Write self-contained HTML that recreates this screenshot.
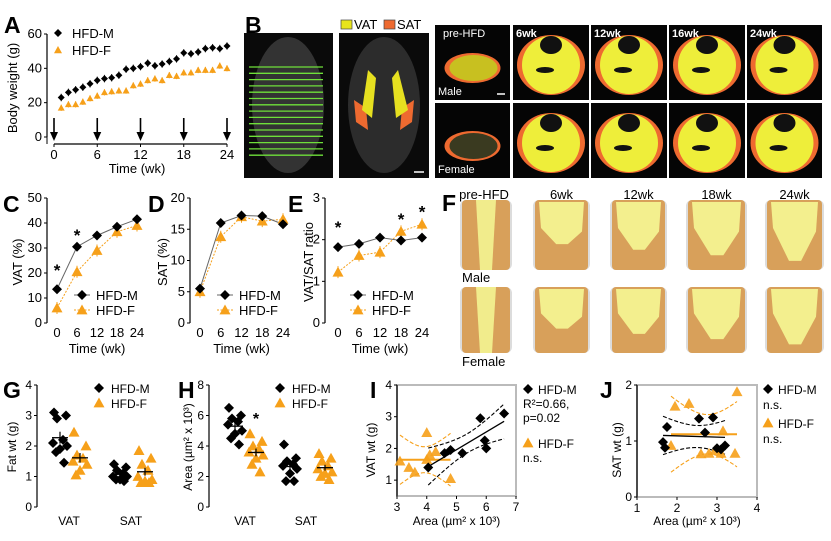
<!DOCTYPE html>
<html><head><meta charset="utf-8"><style>
html,body{margin:0;padding:0;background:#fff;}
svg{display:block;font-family:"Liberation Sans",Arial,sans-serif;}
</style></head><body>
<svg id="fig" width="831" height="541" viewBox="0 0 831 541" xmlns="http://www.w3.org/2000/svg"></svg>
<script>
// ---------- DATA ----------
const weeksA = [1,2,3,4,5,6,7,8,9,10,11,12,13,14,15,16,17,18,19,20,21,22,23,24];
const bwMale = [23,26,27.5,29,31,33,34,34.5,36,39.5,40,41,43,41.5,42.5,44,45.5,49,48.5,49.5,51.5,52,51.5,53];
const bwFemale = [17,19,19,20.5,22.5,24,26,26.5,27,27,30,31,33,34,33,36,35.5,37.5,37.5,39,39,39,41.5,40];
const arrowWeeks = [0,6,12,18,24];
const timeCE = [0,6,12,18,24];
const vatMale = [13.5,30.5,35,38.5,41.5];
const vatFemale = [6,20.5,29,36.5,39];
const satMale = [5.5,16,17.2,17.1,15.8];
const satFemale = [5,13.8,17,16.3,16.6];
const ratioMale = [1.82,1.9,2.05,1.98,2.05];
const ratioFemale = [1.22,1.62,1.7,2.2,2.37];
const gVatM = [3.1,3.0,2.9,2.2,2.1,2.0,1.9,1.8,1.45];
const gVatF = [2.45,2.0,1.7,1.6,1.5,1.4,1.2,1.05];
const gSatM = [1.4,1.3,1.2,1.1,1.0,1.0,0.9,0.9,0.85];
const gSatF = [1.85,1.6,1.4,1.2,1.0,0.9,0.85,0.8,0.8];
const hVatM = [6.5,6.0,5.8,5.6,5.4,5.0,4.8,4.5,4.1];
const hVatF = [4.8,4.3,4.0,3.8,3.6,3.4,3.2,2.8,2.3];
const hSatM = [4.1,3.2,3.0,2.8,2.7,2.5,2.2,1.7,1.7];
const hSatF = [3.5,3.2,3.0,2.7,2.5,2.3,2.2,2.0,1.8];
const iMaleX = [4.05,4.6,4.8,5.2,5.8,5.95,6.0,6.6];
const iMaleY = [1.4,1.85,1.95,1.85,2.95,2.25,2.0,3.1];
const iFemX = [3.1,3.4,3.6,4.0,4.0,4.1,4.3,4.8];
const iFemY = [1.6,1.4,1.25,2.5,1.65,1.8,1.9,1.05];
const jMaleX = [1.65,1.7,1.75,2.55,2.7,2.9,3.0,3.1,3.2];
const jMaleY = [0.98,0.88,1.25,1.4,1.15,1.42,0.87,0.85,0.92];
const jFemX = [1.85,1.95,2.3,2.6,2.8,2.95,3.1,3.15,3.45,3.5];
const jFemY = [0.92,1.62,1.67,0.77,0.78,0.83,0.78,1.18,0.78,1.88];

// ---------- HELPERS ----------
const NS="http://www.w3.org/2000/svg";
const svg=document.getElementById('fig');
const OR="#f6a01a";
function mk(tag,attrs,name,parent){
  const el=document.createElementNS(NS,tag);
  for(const k in attrs) el.setAttribute(k,attrs[k]);
  
  
  (parent||svg).appendChild(el);
  return el;
}
function txt(x,y,s,name,o){
  o=o||{};
  const t=mk('text',{x:x,y:y,'font-size':o.size||12,'text-anchor':o.anchor||'start','font-weight':o.bold?'bold':'normal',fill:o.fill||'#000'},name);
  if(o.rot) t.setAttribute('transform','rotate(-90 '+x+' '+y+')');
  t.textContent=s;return t;
}
function lin(a0,a1,p0,p1){return v=>p0+(v-a0)*(p1-p0)/(a1-a0);}
function diamond(x,y,r,name,fill){return mk('polygon',{points:`${x},${y-r} ${x+r},${y} ${x},${y+r} ${x-r},${y}`,fill:fill||'#000'},name);}
function tri(x,y,r,name,fill,op){return mk('polygon',{points:`${x},${y-r} ${x+r},${y+r*0.8} ${x-r},${y+r*0.8}`,fill:fill||OR,'fill-opacity':op||1},name);}
function line(x1,y1,x2,y2,name,st,w,dash){const a={x1:x1,y1:y1,x2:x2,y2:y2,stroke:st||'#000','stroke-width':w||1};if(dash)a['stroke-dasharray']=dash;return mk('line',a,name);}
function yAxis(x,sy,ticks,top,bot,name,size){
  line(x,sy(top),x,sy(bot),name+'-line','#000',1.2);
  ticks.forEach(v=>{line(x-3,sy(v),x,sy(v),name+'-tick');txt(x-5,sy(v)+4,String(v),name+'-label',{anchor:'end',size:size||12});});
}
function letter(x,y,s){txt(x,y,s,'panel-label-'+s.toLowerCase(),{size:23,bold:true});}

// ---------- PANEL A ----------
letter(4,33,'A');
const axA=lin(0,24,54,227), ayA=lin(0,60,137,34);
yAxis(47,ayA,[0,20,40,60],60,0,'a-y-axis',13);
line(47,ayA(0),47,144,'a-y-axis-ext');
line(54,144,227,144,'a-x-axis','#000',1.2);
[0,6,12,18,24].forEach(v=>{line(axA(v),144,axA(v),147,'a-x-tick');txt(axA(v),159,String(v),'a-x-label',{anchor:'middle',size:13});});
arrowWeeks.forEach(v=>{line(axA(v),118,axA(v),133,'a-arrow-shaft','#000',1.6);mk('polygon',{points:`${axA(v)-4},132 ${axA(v)+4},132 ${axA(v)},141`,fill:'#000'},'a-arrow-head');});
txt(137,173,'Time (wk)','a-x-title',{anchor:'middle',size:13});
txt(17,88,'Body weight (g)','a-y-title',{anchor:'middle',size:13,rot:true});
weeksA.forEach((w,i)=>{
  const x=axA(w);
  line(x,ayA(bwFemale[i]+1.8),x,ayA(bwFemale[i]-1.8),'a-female-err',OR);
  tri(x,ayA(bwFemale[i]),3.5,'a-female-point');
  line(x,ayA(bwMale[i]+2.2),x,ayA(bwMale[i]-2.2),'a-male-err','#333');
  diamond(x,ayA(bwMale[i]),3.5,'a-male-point');
});
diamond(58,33,4,'a-legend-male-marker');txt(72,38,'HFD-M','a-legend-male',{size:13});
tri(58,50,4,'a-legend-female-marker');txt(72,55,'HFD-F','a-legend-female',{size:13});

// ---------- PANEL B ----------
letter(245,33,'B');
const g1=mk('g',{},'b-mri-coronal-raw');
mk('rect',{x:244,y:33,width:89,height:145,fill:'#0a0a0a'},'b-mri-bg',g1);
mk('ellipse',{cx:288,cy:105,rx:36,ry:68,fill:'#333'},'b-mri-body',g1);
for(let i=0;i<15;i++) line(249,67+i*6.3,323,67+i*6.3,'b-slice-line','#6fe03a',1.3);
const g2=mk('g',{},'b-mri-coronal-seg');
mk('rect',{x:339,y:33,width:90,height:145,fill:'#0a0a0a'},'b-mri-bg',g2);
mk('ellipse',{cx:384,cy:105,rx:36,ry:68,fill:'#2c2c2c'},'b-mri-body',g2);
mk('path',{d:'M354 100 L366 108 L368 130 L356 122 Z',fill:'#ee6a30'},'b-sat-left',g2);
mk('path',{d:'M414 100 L402 108 L400 130 L412 122 Z',fill:'#ee6a30'},'b-sat-right',g2);
mk('path',{d:'M368 70 L376 78 L372 118 L362 110 Z',fill:'#e6e020'},'b-vat-left',g2);
mk('path',{d:'M398 70 L392 78 L396 118 L408 110 Z',fill:'#e6e020'},'b-vat-right',g2);
line(414,172,424,172,'b-scale-bar','#fff',1.5);
mk('rect',{x:341,y:20,width:11,height:9,fill:'#e8e41c',stroke:'#444','stroke-width':0.7},'b-legend-vat-swatch');
txt(354,29,'VAT','b-legend-vat',{size:13});
mk('rect',{x:384,y:20,width:11,height:9,fill:'#ee6a30',stroke:'#444','stroke-width':0.7},'b-legend-sat-swatch');
txt(397,29,'SAT','b-legend-sat',{size:13});
const colX=[435,513,591,669,747], colW=[75,76,76,76,75], rowY=[25,103];
const colLab=['pre-HFD','6wk','12wk','16wk','24wk'];
rowY.forEach((ry,r)=>colX.forEach((cx,c)=>{
  const g=mk('g',{},'b-axial-slice');
  mk('rect',{x:cx,y:ry,width:colW[c],height:75,fill:'#050505'},'b-slice-bg',g);
  const mx=cx+colW[c]/2, my=ry+40;
  if(c===0){
    mk('ellipse',{cx:mx,cy:my+3,rx:28,ry:15,fill:'#ee6a30'},'b-sat',g);
    mk('ellipse',{cx:mx+1,cy:my+3,rx:24,ry:13,fill:r?'#3a3a20':'#c8c020'},'b-vat',g);
  }else{
    mk('ellipse',{cx:mx,cy:my,rx:34,ry:30,fill:'#ee6a30'},'b-sat',g);
    mk('ellipse',{cx:mx,cy:my,rx:29,ry:29,fill:'#eeee3a'},'b-vat',g);
    mk('ellipse',{cx:mx,cy:ry+20,rx:11,ry:9,fill:'#111'},'b-spine',g);
    mk('ellipse',{cx:mx-6,cy:my+5,rx:9,ry:3,fill:'#111'},'b-organ',g);
  }
  if(r===0) txt(cx+(c===0?8:3),ry+12,colLab[c],'b-col-label',{size:11,bold:c>0,fill:'#fff'});
}));
txt(438,95,'Male','b-male-label',{size:11,fill:'#fff'});
txt(438,173,'Female','b-female-label',{size:11,fill:'#fff'});
line(497,94,505,94,'b-scale-bar2','#fff',1.5);

// ---------- panels C D E ----------
function tcPanel(letterS,lx,axX,x0,x24,ymax,yt,m,f,ytitle,tx,stars,legX){
  letter(lx,212,letterS);
  const sx=lin(0,24,x0,x24), sy=lin(0,ymax,323,198);
  const p=letterS.toLowerCase();
  yAxis(axX,sy,yt,ymax,0,p+'-y-axis',13);
  timeCE.forEach(v=>txt(sx(v),337,String(v),p+'-x-label',{anchor:'middle',size:13}));
  txt((x0+x24)/2,353,'Time (wk)',p+'-x-title',{anchor:'middle',size:13});
  txt(tx,262,ytitle,p+'-y-title',{anchor:'middle',size:13,rot:true});
  mk('polyline',{points:timeCE.map((t,i)=>sx(t)+','+sy(f[i])).join(' '),fill:'none',stroke:OR,'stroke-width':1,'stroke-dasharray':'2,1.5'},p+'-female-line');
  mk('polyline',{points:timeCE.map((t,i)=>sx(t)+','+sy(m[i])).join(' '),fill:'none',stroke:'#666','stroke-width':1},p+'-male-line');
  timeCE.forEach((t,i)=>{
    line(sx(t),sy(f[i])-6,sx(t),sy(f[i])+6,p+'-female-err',OR);
    tri(sx(t),sy(f[i]),5.5,p+'-female-point');
    diamond(sx(t),sy(m[i]),5,p+'-male-point');
  });
  stars.forEach(([t,v])=>txt(sx(t),sy(v)+8,'*',p+'-sig-star',{anchor:'middle',size:17,bold:true}));
  mk('line',{x1:legX-8,y1:295,x2:legX+8,y2:295,stroke:'#666'},p+'-legend-male-line');
  diamond(legX,295,5,p+'-legend-male-marker');txt(legX+14,300,'HFD-M',p+'-legend-male',{size:13});
  mk('line',{x1:legX-8,y1:310,x2:legX+8,y2:310,stroke:OR,'stroke-dasharray':'2,1.5'},p+'-legend-female-line');
  tri(legX,310,5.5,p+'-legend-female-marker');txt(legX+14,315,'HFD-F',p+'-legend-female',{size:13});
}
tcPanel('C',3,47,57,137,50,[0,10,20,30,40,50],vatMale,vatFemale,'VAT (%)',22,[[0,22],[6,36]],82);
tcPanel('D',148,190,200,283,20,[0,5,10,15,20],satMale,satFemale,'SAT (%)',167,[],225);
tcPanel('E',288,325,338,422,3,[0,1,2,3],ratioMale,ratioFemale,'VAT/SAT ratio',313,[[0,2.35],[18,2.55],[24,2.72]],358);

// ---------- PANEL F ----------
letter(442,211,'F');
const fX=[462,535,612,688,767], fW=[48,53,53,57,55], fLab=['pre-HFD','6wk','12wk','18wk','24wk'];
fLab.forEach((s,i)=>txt(i===0?484:fX[i]+fW[i]/2,199,s,'f-col-label',{anchor:'middle',size:13}));
[[200,70],[287,66]].forEach(([y,h],r)=>fX.forEach((x,i)=>{
  const g=mk('g',{},'f-torso-render');
  mk('rect',{x:x-2,y:y,width:fW[i]+4,height:h,rx:6,fill:'#dcdcdc'},'f-skin',g);
  mk('rect',{x:x,y:y,width:fW[i],height:h,rx:4,fill:'#d8a05a'},'f-sat',g);
  if(i===0){
    mk('path',{d:`M${x+14} ${y} L${x+34} ${y} L${x+30} ${y+h} L${x+18} ${y+h} Z`,fill:'#f1ec8c'},'f-vat',g);
  }else{
    const w=fW[i];
    mk('path',{d:`M${x+4} ${y+2} L${x+w-4} ${y+2} L${x+w-6} ${y+h*0.45} L${x+w*0.62} ${y+h*(0.55+i*0.08)} L${x+w*0.4} ${y+h*(0.55+i*0.08)} L${x+6} ${y+h*0.4} Z`,fill:'#f3ef8e'},'f-vat',g);
  }
}));
txt(462,282,'Male','f-male-label',{size:13});
txt(462,366,'Female','f-female-label',{size:13});

// ---------- PANEL G, H ----------
const jit=[-6,6,-3,3,-7,7,0,-4,4,-1];
function dotPanel(letterS,lx,axX,ymax,yt,groups,title,titleX,lblX,legX,starPos){
  const p=letterS.toLowerCase();
  letter(lx,398,letterS);
  const sy=lin(0,ymax,507,385);
  yAxis(axX,sy,yt,ymax,0,p+'-y-axis',12);
  txt(titleX,447,title,p+'-y-title',{anchor:'middle',size:12,rot:true});
  txt(lblX[0],525,'VAT',p+'-x-label',{anchor:'middle',size:12});
  txt(lblX[1],525,'SAT',p+'-x-label',{anchor:'middle',size:12});
  groups.forEach(([arr,cx,male])=>{
    arr.forEach((v,i)=>{male?diamond(cx+jit[i],sy(v),5,p+'-male-point'):tri(cx+jit[i],sy(v),5.5,p+'-female-point');});
    const mean=arr.reduce((a,b)=>a+b,0)/arr.length;
    const sd=Math.sqrt(arr.reduce((a,b)=>a+(b-mean)**2,0)/(arr.length-1))/Math.sqrt(arr.length);
    line(cx-8,sy(mean),cx+8,sy(mean),p+'-mean-bar','#000',1.3);
    line(cx,sy(mean-sd),cx,sy(mean+sd),p+'-sem-bar','#000',1.2);
  });
  if(starPos) txt(starPos[0],sy(starPos[1])+7,'*',p+'-sig-star',{anchor:'middle',size:16,bold:true});
  diamond(legX,388,5,p+'-legend-male-marker');txt(legX+12,393,'HFD-M',p+'-legend-male',{size:12});
  tri(legX,403,5.5,p+'-legend-female-marker');txt(legX+12,408,'HFD-F',p+'-legend-female',{size:12});
}
dotPanel('G',3,37,4,[0,1,2,3,4],[[gVatM,60,true],[gVatF,80,false],[gSatM,120,true],[gSatF,145,false]],'Fat wt (g)',16,[69,131],99);
dotPanel('H',178,209,8,[0,2,4,6,8],[[hVatM,235,true],[hVatF,256,false],[hSatM,290,true],[hSatF,325,false]],'Area (µm² x 10³)',192,[245,306],280,[256,5.9]);

// ---------- PANEL I, J ----------
function fit(xs,ys){
  const n=xs.length,mx=xs.reduce((a,b)=>a+b)/n,my=ys.reduce((a,b)=>a+b)/n;
  let sxx=0,sxy=0;xs.forEach((x,i)=>{sxx+=(x-mx)**2;sxy+=(x-mx)*(ys[i]-my);});
  const b=sxy/sxx,a=my-b*mx;let sse=0;xs.forEach((x,i)=>sse+=(ys[i]-a-b*x)**2);
  const s=Math.sqrt(sse/(n-2));return {a,b,mx,sxx,s,n};
}
function regPanel(p,xs,ys,sx,sy,col,flat){
  const f=fit(xs,ys);
  const x0=Math.min(...xs),x1=Math.max(...xs);
  const a=flat?ys.reduce((q,r)=>q+r)/ys.length:f.a, b=flat?0:f.b;
  const up=[],lo=[];
  for(let k=0;k<=20;k++){const x=x0+(x1-x0)*k/20;const se=2.4*f.s*Math.sqrt(1/f.n+(x-f.mx)**2/f.sxx);const y=a+b*x;up.push(sx(x)+','+sy(y+se));lo.push(sx(x)+','+sy(y-se));}
  mk('polyline',{points:up.join(' '),fill:'none',stroke:col,'stroke-dasharray':'4,2','stroke-width':1.1},p+'-ci-upper');
  mk('polyline',{points:lo.join(' '),fill:'none',stroke:col,'stroke-dasharray':'4,2','stroke-width':1.1},p+'-ci-lower');
  line(sx(x0),sy(a+b*x0),sx(x1),sy(a+b*x1),p+'-fit-line',col,flat?2:1.3);
}
function scatterPanel(letterS,lx,box,xr,yr,xt,yt,mX,mY,fX,fY,title,titleX,legX,legTexts,fmFlat,ffFlat){
  const p=letterS.toLowerCase();
  letter(lx,398,letterS);
  const sx=lin(xr[0],xr[1],box[0],box[1]), sy=lin(yr[0],yr[1],box[3],box[2]);
  mk('rect',{x:box[0],y:box[2],width:box[1]-box[0],height:box[3]-box[2],fill:'none',stroke:'#bbb','stroke-width':2},p+'-plot-frame');
  line(box[0],box[2],box[0],box[3],p+'-y-axis-line','#000',1.2);
  yt.forEach(v=>{line(box[0]-3,sy(v),box[0],sy(v),p+'-y-tick');txt(box[0]-5,sy(v)+4,String(v),p+'-y-label',{anchor:'end',size:12});});
  xt.forEach(v=>{line(sx(v),box[3],sx(v),box[3]+3,p+'-x-tick');txt(sx(v),box[3]+15,String(v),p+'-x-label',{anchor:'middle',size:12});});
  txt((box[0]+box[1])/2,525,'Area (µm² x 10³)',p+'-x-title',{anchor:'middle',size:12});
  txt(titleX,450,title,p+'-y-title',{anchor:'middle',size:12,rot:true});
  regPanel(p+'-female',fX,fY,sx,sy,OR,ffFlat);
  regPanel(p+'-male',mX,mY,sx,sy,'#000',fmFlat);
  fX.forEach((x,i)=>tri(sx(x),sy(fY[i]),5.5,p+'-female-point',OR,0.9));
  mX.forEach((x,i)=>diamond(sx(x),sy(mY[i]),5,p+'-male-point'));
  diamond(legX,389,5,p+'-legend-male-marker');
  legTexts.forEach(([t,y,name,dx])=>txt(legX+(dx||0),y,t,p+'-'+name,{size:12}));
}
scatterPanel('I',370,[397,516,385,496],[3,7],[0.5,4],[3,4,5,6,7],[1,2,3,4],iMaleX,iMaleY,iFemX,iFemY,'VAT wt (g)',375,528,
  [['HFD-M',394,'legend-male',10],['R²=0.66,',408,'legend-r2',-5],['p=0.02',422,'legend-p',-5],['HFD-F',448,'legend-female',10],['n.s.',462,'legend-female-ns',-5]],false,true);
tri(528,443,5.5,'i-legend-female-marker');
scatterPanel('J',600,[637,757,385,497],[1,4],[0,2],[1,2,3,4],[0,1,2],jMaleX,jMaleY,jFemX,jFemY,'SAT wt (g)',621,768,
  [['HFD-M',394,'legend-male',10],['n.s.',409,'legend-male-ns',-5],['HFD-F',428,'legend-female',10],['n.s.',443,'legend-female-ns',-5]],false,true);
tri(768,423,5.5,'j-legend-female-marker');
</script>
</body></html>
